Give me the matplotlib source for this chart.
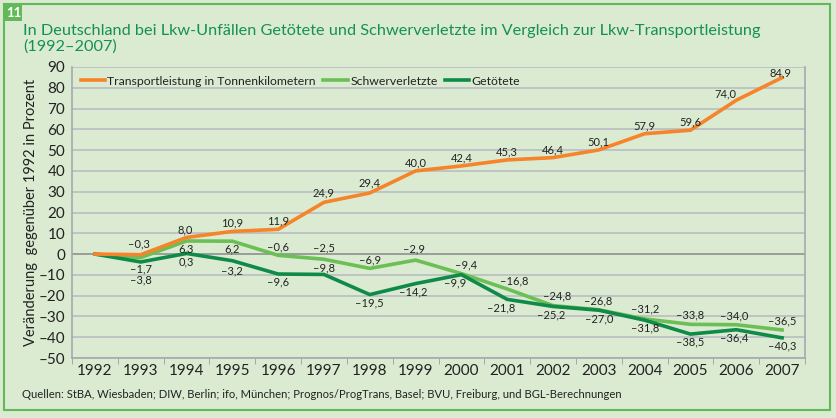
import matplotlib.pyplot as plt
import numpy as np
from matplotlib.patches import Rectangle

plt.rcParams['font.family'] = ['Lato', 'DejaVu Sans']

# data
years = ["1992", "1993", "1994", "1995", "1996", "1997", "1998", "1999",
         "2000", "2001", "2002", "2003", "2004", "2005", "2006", "2007"]
transport = [0, -0.3, 8.0, 10.9, 11.9, 24.9, 29.4, 40.0,
             42.4, 45.3, 46.4, 50.1, 57.9, 59.6, 74.0, 84.9]
schwer = [0, -1.7, 6.3, 6.2, -0.6, -2.5, -6.9, -2.9,
          -9.4, -16.8, -24.8, -26.8, -31.2, -33.8, -34.0, -36.5]
getoetet = [0, -3.8, 0.3, -3.2, -9.6, -9.8, -19.5, -14.2,
            -9.9, -21.8, -25.2, -27.0, -31.8, -38.5, -36.4, -40.3]

bg = "#dbebd2"
orange = "#f5842a"
lightgreen = "#6cbf55"
darkgreen = "#0f8a48"
titlecol = "#149055"

fig = plt.figure(figsize=(8.36, 4.18), dpi=100, facecolor=bg)

# frame and badge
fig.patches.append(Rectangle((4/836, 8/418), 826/836, 406/418, transform=fig.transFigure,
                             fill=False, edgecolor="#62b957", linewidth=1.5))
fig.patches.append(Rectangle((5/836, (418-21)/418), 17/836, 16/418, transform=fig.transFigure,
                             facecolor="#62b957", edgecolor="none"))
fig.text(13.5/836, (418-13)/418, "11", color="white", fontsize=9.5, fontweight="bold",
         ha="center", va="center")
fig.text(23/836, (418-31)/418, "In Deutschland bei Lkw-Unfällen Getötete und Schwerverletzte im Vergleich zur Lkw-Transportleistung",
         color=titlecol, fontsize=11.7, ha="left", va="center")
fig.text(23/836, (418-47)/418, "(1992\u20132007)", color=titlecol, fontsize=11.7, ha="left", va="center")
fig.text(22/836, (418-395)/418,
         "Quellen: StBA, Wiesbaden; DIW, Berlin; ifo, München; Prognos/ProgTrans, Basel; BVU, Freiburg, und BGL-Berechnungen",
         color="#222222", fontsize=8.1, ha="left", va="center")

ax = fig.add_axes([72/836, (418-358)/418, 733/836, 291/418])
ax.set_facecolor(bg)
x = np.arange(len(years))

for v in range(-50, 91, 10):
    ax.axhline(v, color="#8f9090" if v == 0 else "#b9bcc2", linewidth=1.2, zorder=1)

ax.plot(x, transport, color=orange, linewidth=2.6, label="Transportleistung in Tonnenkilometern", zorder=4)
ax.plot(x, schwer, color=lightgreen, linewidth=2.6, label="Schwerverletzte", zorder=3)
ax.plot(x, getoetet, color=darkgreen, linewidth=2.6, label="Getötete", zorder=3)

def fmt(v):
    return ("%.1f" % v).replace(".", ",").replace("-", "\u2013")

# label offsets in pixels (dy > 0 above the point)
t_dy = [0, 11, 8, 8, 8, 9, 10, 8, 8, 8, 8, 8, 8, 8, 6, 5]
t_dx = [0, -2, -1, 0, 0, 0, 0, 0, 0, 0, 0, 0, 0, 0, -11, -2]
s_dy = [0, -11, -8, -8, 8, 11, 8, 11, 9, 8, 10, 9, 10, 9, 9, 9]
s_dx = [0, 0, 0, 0, 0, 0, 0, -2, 5, 7, 4, -1, 0, 0, -2, 0]
g_dy = [0, -18, -8, -10, -8, 7, -8, -8, -8, -9, -8, -9, -8, -8, -8, -8]
g_dx = [0, 0, 0, 0, 0, 0, 0, -2, -6, -6, -2, 0, 0, 0, -2, 0]

for vals, dys, dxs in [(transport, t_dy, t_dx), (schwer, s_dy, s_dx), (getoetet, g_dy, g_dx)]:
    for i, v in enumerate(vals):
        if dys[i] == 0:
            continue
        ax.annotate(fmt(v), (x[i], v), xytext=(dxs[i], dys[i]), textcoords="offset pixels",
                    ha="center", va="center", fontsize=8, color="#222222", zorder=5)

ax.set_xlim(-0.5, len(years) - 0.5)
ax.set_ylim(-50, 90)
ax.set_yticks(range(-50, 91, 10))
ax.set_yticklabels([str(v).replace("-", "\u2013") for v in range(-50, 91, 10)])
ax.set_xticks(x)
ax.set_xticklabels(years)
ax.set_xticks(np.arange(-0.5, len(years), 1), minor=True)
ax.tick_params(axis="x", which="major", length=0, labelsize=11, pad=4, colors="#222222")
ax.tick_params(axis="x", which="minor", length=4, color="#9a9ca0", direction="out")
ax.tick_params(axis="y", length=0, labelsize=11, pad=5, colors="#222222")
for s in ax.spines.values():
    s.set_color("#a5a8ad")
    s.set_linewidth(1.2)
ax.spines["top"].set_visible(False)

ax.set_ylabel("Veränderung  gegenüber 1992 in Prozent", fontsize=10.5, color="#222222")
ax.yaxis.set_label_coords(-0.047, 0.5)

leg = ax.legend(loc="upper left", ncol=3, frameon=False, fontsize=8.8, handlelength=2.0,
                handletextpad=0.2, columnspacing=0.6, bbox_to_anchor=(0.0, 1.0),
                borderaxespad=0.3)
for t in leg.get_texts():
    t.set_color("#222222")

fig.savefig("out.png", dpi=100, facecolor=bg)
